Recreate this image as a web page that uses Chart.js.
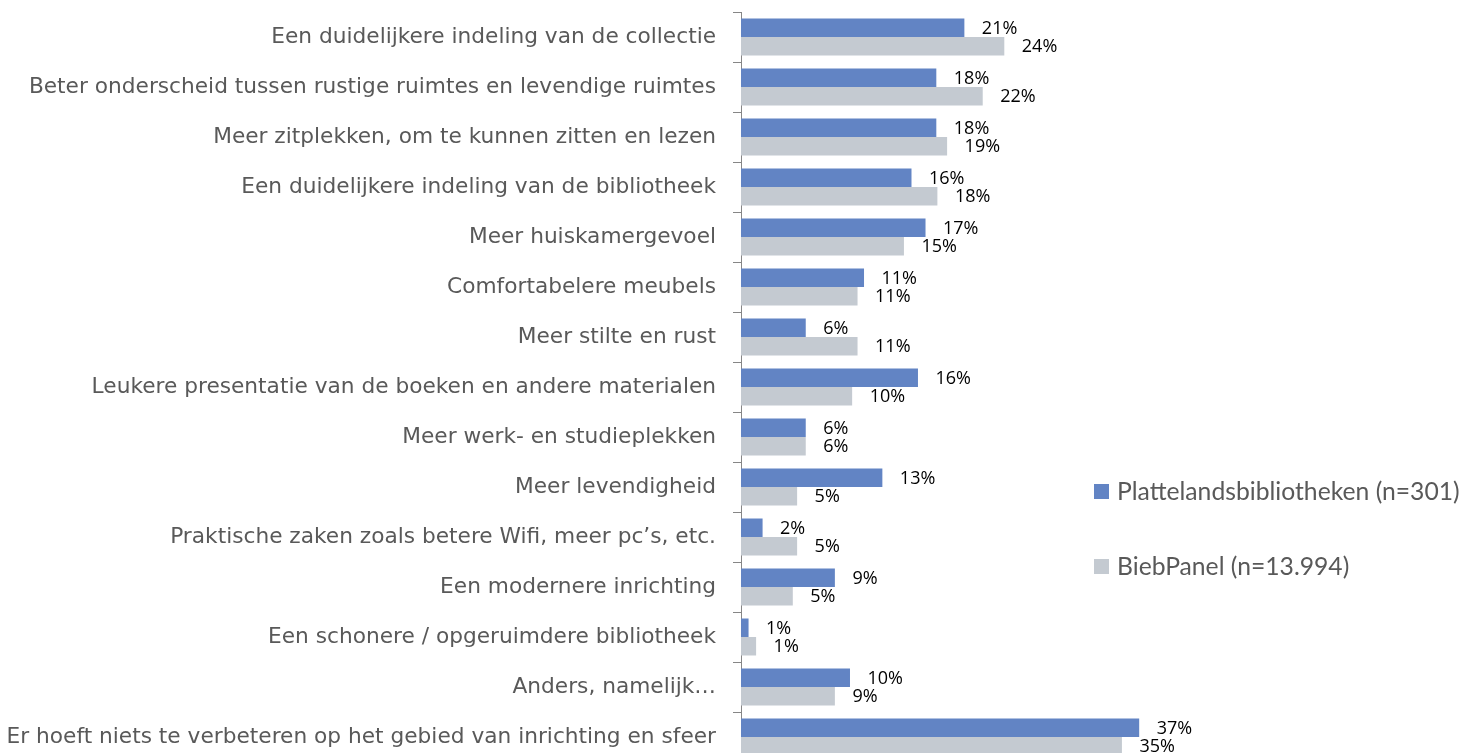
<!DOCTYPE html>
<html>
<head>
<meta charset="utf-8">
<script src="https://cdn.jsdelivr.net/npm/chart.js@4.4.1/dist/chart.umd.min.js"></script>
<style>
html, body { margin: 0; padding: 0; overflow: hidden; background: #ffffff; }
canvas { display: block; }
</style>
</head>
<body>
<canvas id="c" width="1464" height="765"></canvas>
<script>
const categories = [
  "Een duidelijkere indeling van de collectie",
  "Beter onderscheid tussen rustige ruimtes en levendige ruimtes",
  "Meer zitplekken, om te kunnen zitten en lezen",
  "Een duidelijkere indeling van de bibliotheek",
  "Meer huiskamergevoel",
  "Comfortabelere meubels",
  "Meer stilte en rust",
  "Leukere presentatie van de boeken en andere materialen",
  "Meer werk- en studieplekken",
  "Meer levendigheid",
  "Praktische zaken zoals betere Wifi, meer pc\u2019s, etc.",
  "Een modernere inrichting",
  "Een schonere / opgeruimdere bibliotheek",
  "Anders, namelijk\u2026",
  "Er hoeft niets te verbeteren op het gebied van inrichting en sfeer"
];
const seriesNames = ["Plattelandsbibliotheken (n=301)", "BiebPanel (n=13.994)"];
const platteland = [20.7, 18.1, 18.1, 15.8, 17.1, 11.4, 6.0, 16.4, 6.0, 13.1, 2.0, 8.7, 0.7, 10.1, 36.9];
const biebpanel  = [24.4, 22.4, 19.1, 18.2, 15.1, 10.8, 10.8, 10.3, 6.0, 5.2, 5.2, 4.8, 1.4, 8.7, 35.3];

const colors = ["#6284C4", "#C4CAD1"];
const CAT_FONT = "'DejaVu Sans', sans-serif";
const FONT = "'Open Sans', sans-serif";
const LEGEND_FONT = "Lato, 'Open Sans', sans-serif";

const valueLabels = {
  id: 'valueLabels',
  afterDatasetsDraw(chart) {
    const ctx = chart.ctx;
    ctx.save();
    ctx.font = "18px " + FONT;
    ctx.fillStyle = "#000000";
    ctx.textAlign = "left";
    ctx.textBaseline = "middle";
    chart.data.datasets.forEach((ds, i) => {
      const meta = chart.getDatasetMeta(i);
      meta.data.forEach((el, j) => {
        ctx.fillText(Math.round(ds.data[j]) + "%", el.x + 17.5, el.y + 1);
      });
    });
    ctx.restore();
  }
};

const customLegend = {
  id: 'customLegend',
  afterDraw(chart) {
    const ctx = chart.ctx;
    ctx.save();
    ctx.font = "24.7px " + LEGEND_FONT;
    ctx.textAlign = "left";
    ctx.textBaseline = "middle";
    const ys = [491, 566];
    chart.data.datasets.forEach((ds, i) => {
      ctx.fillStyle = ds.backgroundColor;
      ctx.fillRect(1094, ys[i] - 7, 15, 15);
      ctx.fillStyle = "#595959";
      ctx.fillText(ds.label, 1117, ys[i] + 1);
    });
    ctx.restore();
  }
};

new Chart(document.getElementById('c'), {
  type: 'bar',
  data: {
    labels: categories,
    datasets: [
      { label: seriesNames[0], data: platteland, backgroundColor: colors[0], categoryPercentage: 0.74, barPercentage: 1.0 },
      { label: seriesNames[1], data: biebpanel, backgroundColor: colors[1], categoryPercentage: 0.74, barPercentage: 1.0 }
    ]
  },
  options: {
    indexAxis: 'y',
    responsive: false,
    animation: false,
    devicePixelRatio: 1,
    layout: { padding: { top: 12, bottom: 3, left: 0, right: 0 } },
    plugins: {
      legend: { display: false },
      tooltip: { enabled: false },
      title: { display: false }
    },
    scales: {
      x: { display: false, min: 0, max: 67 },
      y: {
        afterFit(scale) { scale.width = 741; scale.paddingTop = 0; scale.paddingBottom = 0; },
        grid: { display: true, drawOnChartArea: false, drawTicks: true, tickLength: 8, color: "#868686", offset: true },
        border: { display: true, color: "#868686" },
        ticks: { color: "#595959", font: { family: CAT_FONT, size: 21.7 }, padding: 17, autoSkip: false }
      }
    }
  },
  plugins: [valueLabels, customLegend]
});
</script>
</body>
</html>
